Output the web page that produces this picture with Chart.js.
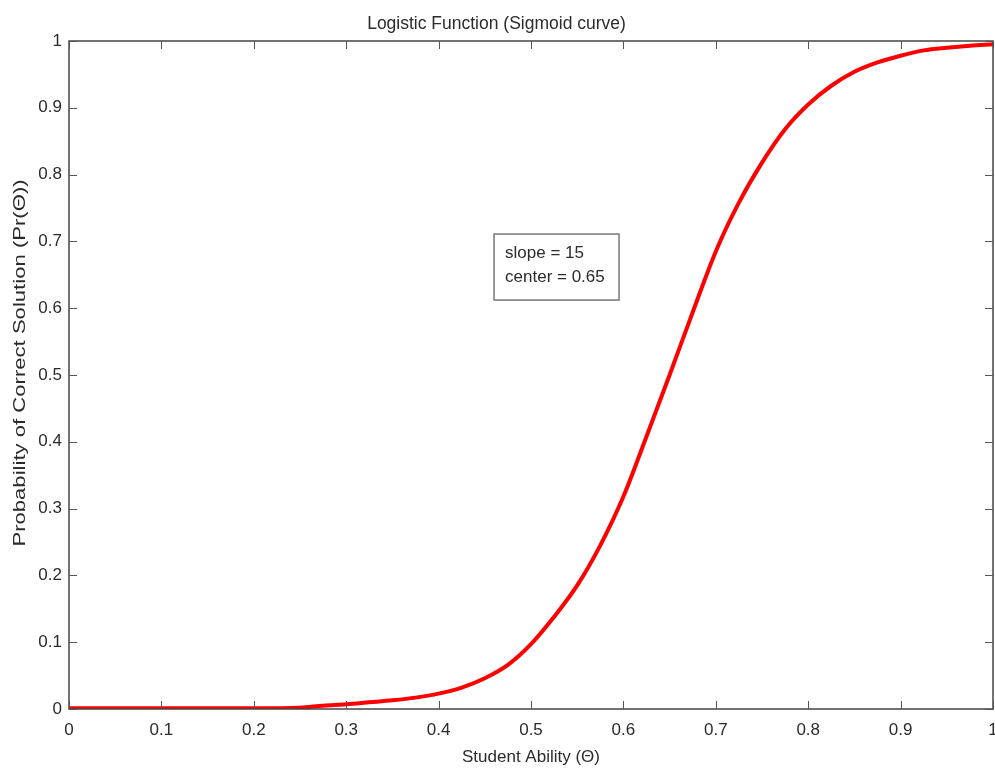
<!DOCTYPE html>
<html>
<head>
<meta charset="utf-8">
<script src="https://cdn.jsdelivr.net/npm/chart.js@4"></script>
<style>
  html, body { margin: 0; padding: 0; background: #fff; }
  #wrap { width: 995px; height: 768px; }
</style>
</head>
<body>
<div id="wrap"><canvas id="c" width="995" height="768"></canvas></div>
<script>
// values
const abilityX = [0, 0.05, 0.1, 0.15, 0.2, 0.25, 0.275, 0.3, 0.325, 0.35, 0.375, 0.4, 0.425, 0.45, 0.475,
  0.5, 0.525, 0.55, 0.575, 0.6, 0.625, 0.65, 0.675, 0.7, 0.725, 0.75, 0.775, 0.8, 0.825, 0.85,
  0.875, 0.9, 0.925, 0.95, 0.975, 1.0];
const probY = [0.001, 0.001, 0.001, 0.001, 0.001, 0.002, 0.005, 0.007, 0.010, 0.013, 0.017, 0.023, 0.032, 0.046, 0.066,
  0.097, 0.138, 0.185, 0.245, 0.318, 0.408, 0.5, 0.594, 0.685, 0.758, 0.818, 0.868, 0.905, 0.933, 0.954,
  0.968, 0.978, 0.986, 0.99, 0.993, 0.995];
const xTicks = [0, 0.1, 0.2, 0.3, 0.4, 0.5, 0.6, 0.7, 0.8, 0.9, 1];
const yTicks = [0, 0.1, 0.2, 0.3, 0.4, 0.5, 0.6, 0.7, 0.8, 0.9, 1];
const noteLines = ["slope = 15", "center = 0.65"];
const yTitle = "Probability of Correct Solution (Pr(Θ))";

const FONT = "'Liberation Sans', Arial, Helvetica, sans-serif";
const ink = "#2b2b2b";

// MATLAB style frame: box on all sides, ticks pointing inward, text box, tall y label
const matlabFrame = {
  id: "matlabFrame",
  afterDatasetsDraw(chart) {
    const { ctx, chartArea: a, scales: { x, y } } = chart;
    ctx.save();
    ctx.strokeStyle = "#444";
    ctx.lineWidth = 1.5;
    ctx.strokeRect(a.left, a.top, a.right - a.left, a.bottom - a.top);
    ctx.lineWidth = 1;
    ctx.strokeStyle = "#555";
    const len = 8;
    ctx.beginPath();
    xTicks.forEach((v) => {
      const px = Math.round(x.getPixelForValue(v)) + 0.5;
      ctx.moveTo(px, a.bottom); ctx.lineTo(px, a.bottom - len);
      ctx.moveTo(px, a.top); ctx.lineTo(px, a.top + len);
    });
    yTicks.forEach((v) => {
      const py = Math.round(y.getPixelForValue(v)) + 0.5;
      ctx.moveTo(a.left, py); ctx.lineTo(a.left + len, py);
      ctx.moveTo(a.right, py); ctx.lineTo(a.right - len, py);
    });
    ctx.stroke();

    // annotation box
    const bx = x.getPixelForValue(0.46), by = y.getPixelForValue(0.711);
    const bw = 125, bh = 66;
    ctx.fillStyle = "#fff";
    ctx.fillRect(bx, by, bw, bh);
    ctx.strokeStyle = "#777";
    ctx.lineWidth = 1.5;
    ctx.strokeRect(bx, by, bw, bh);
    ctx.fillStyle = ink;
    ctx.font = "17px " + FONT;
    ctx.textBaseline = "middle";
    ctx.textAlign = "left";
    noteLines.forEach((t, i) => ctx.fillText(t, bx + 11, by + 19 + i * 24));

    // y axis title (stretched along its length like the reference)
    ctx.translate(20, (a.top + a.bottom) / 2 - 12);
    ctx.rotate(-Math.PI / 2);
    ctx.scale(1.3, 1);
    ctx.textAlign = "center";
    ctx.font = "17px " + FONT;
    ctx.fillText(yTitle, 0, 0);
    ctx.restore();
  },
};

new Chart(document.getElementById("c"), {
  type: "line",
  data: {
    datasets: [{
      data: abilityX.map((v, i) => ({ x: v, y: probY[i] })),
      borderColor: "#ff0000",
      borderWidth: 4,
      pointRadius: 0,
      cubicInterpolationMode: "monotone",
      fill: false,
    }],
  },
  options: {
    responsive: false,
    animation: false,
    layout: { padding: { left: 0, right: 2, top: 0, bottom: 0 } },
    plugins: {
      legend: { display: false },
      tooltip: { enabled: false },
      title: {
        display: true,
        text: "Logistic Function (Sigmoid curve)",
        color: ink,
        font: { family: FONT, size: 17.5, weight: "normal", lineHeight: 1.2 },
        padding: { top: 14, bottom: 6 },
      },
    },
    scales: {
      x: {
        type: "linear",
        min: 0, max: 1,
        grid: { display: false, drawTicks: false },
        border: { display: false },
        afterBuildTicks: (s) => { s.ticks = xTicks.map((v) => ({ value: v })); },
        afterFit: (s) => { s.height = 59; s.paddingLeft = 0; s.paddingRight = 0; },
        ticks: {
          color: ink, padding: 11, maxRotation: 0,
          font: { family: FONT, size: 17 },
          callback: (v) => String(v),
        },
        title: {
          display: true, text: "Student Ability (Θ)", color: ink,
          font: { family: FONT, size: 17 }, padding: { top: 0, bottom: 0 },
        },
      },
      y: {
        type: "linear",
        min: 0, max: 1,
        grid: { display: false, drawTicks: false },
        border: { display: false },
        afterBuildTicks: (s) => { s.ticks = yTicks.map((v) => ({ value: v })); },
        afterFit: (s) => { s.width = 69; },
        ticks: {
          color: ink, padding: 7,
          font: { family: FONT, size: 17 },
          callback: (v) => String(v),
        },
      },
    },
  },
  plugins: [matlabFrame],
});
</script>
</body>
</html>
